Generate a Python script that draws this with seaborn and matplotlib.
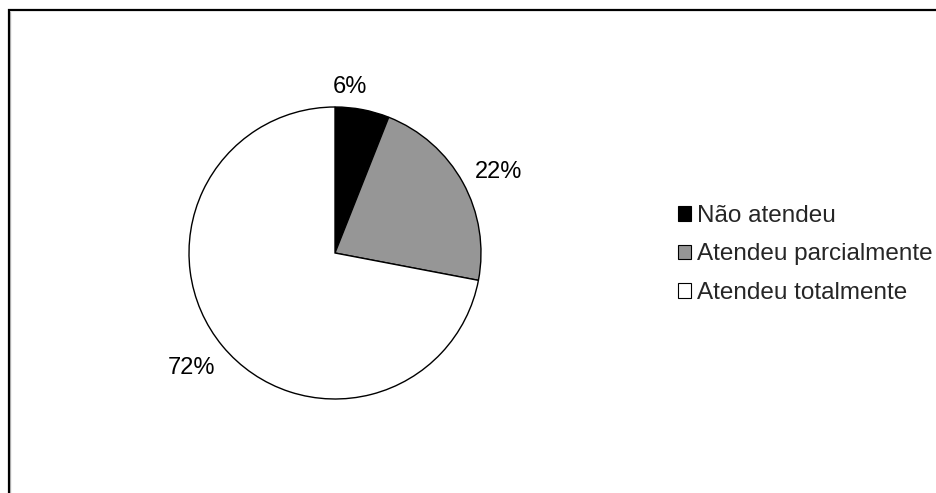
import numpy as np
import matplotlib
matplotlib.use("Agg")
import matplotlib.pyplot as plt
import matplotlib.patches as mpatches
import seaborn as sns

# Survey outcome shares
categories = ["Não atendeu", "Atendeu parcialmente", "Atendeu totalmente"]
shares = [6, 22, 72]
slice_colors = ["#000000", "#969696", "#ffffff"]

# Polar placement of the percentage labels (radius in pie units, angle in degrees)
label_radius = [1.14, 1.25, 1.26]
label_angle = [84.8, 26.4, 218.5]

sns.set_style("white")
plt.rcParams["font.family"] = ["Liberation Sans", "DejaVu Sans"]

W, H = 936, 493
fig = plt.figure(figsize=(W / 100, H / 100), dpi=100)

# Outer chart frame (runs past the right and bottom of the canvas)
frame = mpatches.Rectangle((8.5 / W, -0.1), 1.2, 1 - 10.5 / H + 0.1,
                           transform=fig.transFigure, fill=False,
                           edgecolor="black", linewidth=1.6, zorder=0)
fig.patches.append(frame)
shadow = plt.Line2D([10.3 / W, 10.3 / W], [0, 1 - 12 / H], transform=fig.transFigure,
                    color="#c0c0c0", linewidth=1.0, zorder=0)
fig.lines.append(shadow)

# Pie axes: centre (335, 253) px, radius 146 px
cx, cy, r = 335, 253, 146
ax = fig.add_axes([(cx - r) / W, (H - cy - r) / H, 2 * r / W, 2 * r / H])
wedges, _ = ax.pie(shares, colors=slice_colors, startangle=90, counterclock=False,
                   radius=1.0,
                   wedgeprops=dict(edgecolor="black", linewidth=1.0))
ax.set_xlim(-1, 1)
ax.set_ylim(-1, 1)
ax.set_aspect("equal")
ax.axis("off")

for val, rr, ang in zip(shares, label_radius, label_angle):
    t = np.deg2rad(ang)
    ax.text(rr * np.cos(t), rr * np.sin(t), f"{val}%", ha="center", va="center",
            fontsize=17, color="black", clip_on=False)

# Legend with small square swatches
handles = [mpatches.Patch(facecolor=c, edgecolor="black", linewidth=0.8)
           for c in slice_colors]
fig.legend(handles, categories, loc="center left",
           bbox_to_anchor=(678 / W, 1 - 254.5 / H), frameon=False,
           fontsize=17.5, handlelength=0.54, handleheight=0.54,
           handletextpad=0.25, labelspacing=0.68, borderpad=0, borderaxespad=0)

fig.savefig("out.png", dpi=100, facecolor="white")
